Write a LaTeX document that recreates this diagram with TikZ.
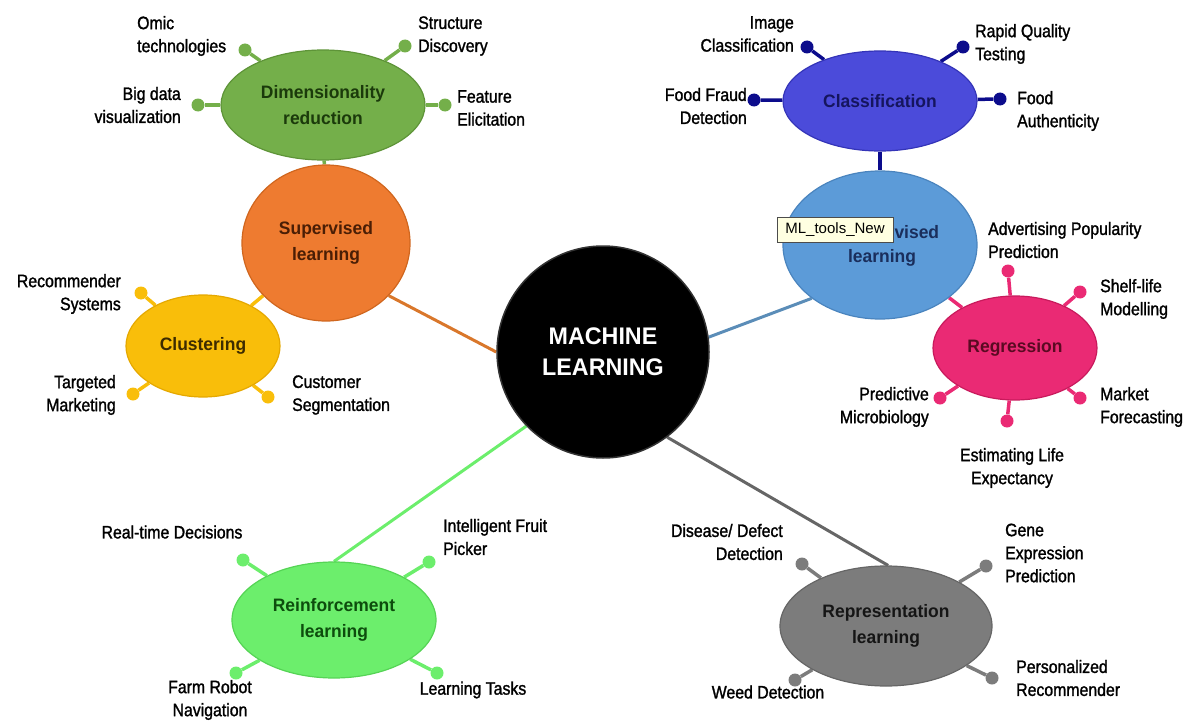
\documentclass[tikz,border=0pt]{standalone}
\usepackage{fontspec}
\setmainfont{Liberation Sans}
\newfontfamily\lblfont{Liberation Sans}[FakeStretch=0.88,FakeBold=1.4]
\newfontfamily\ttlfont{Liberation Sans}[FakeStretch=0.97]
\newfontfamily\tipfont{Liberation Sans}
\usetikzlibrary{shapes.geometric,backgrounds}
\definecolor{cDim}{HTML}{74AF4A}\definecolor{cDimD}{HTML}{5E9438}\definecolor{tDim}{HTML}{1B3A0B}
\definecolor{cSup}{HTML}{EE7B30}\definecolor{cSupD}{HTML}{D0661E}\definecolor{tSup}{HTML}{4A1E05}
\definecolor{cClu}{HTML}{F9BE0A}\definecolor{cCluD}{HTML}{E5A800}\definecolor{tClu}{HTML}{3D2B00}
\definecolor{cCla}{HTML}{4B4BDA}\definecolor{cClaD}{HTML}{3434B8}\definecolor{kCla}{HTML}{0C0C8C}\definecolor{tCla}{HTML}{15155E}
\definecolor{cUns}{HTML}{5C9BD8}\definecolor{cUnsD}{HTML}{4A84BE}\definecolor{tUns}{HTML}{1A2E5C}\definecolor{lUns}{HTML}{5B8DB8}
\definecolor{cReg}{HTML}{EA2A74}\definecolor{cRegD}{HTML}{C81A5C}\definecolor{tReg}{HTML}{5A0A22}
\definecolor{cRei}{HTML}{6CEE6C}\definecolor{cReiD}{HTML}{55D455}\definecolor{tRei}{HTML}{0D4D0D}
\definecolor{cRep}{HTML}{7C7C7C}\definecolor{cRepD}{HTML}{666666}\definecolor{tRep}{HTML}{151515}
\definecolor{lSup}{HTML}{D9772B}
\definecolor{tipfill}{HTML}{FFFFE1}
\tikzset{
  bub/.style={ellipse, inner sep=0, line width=1.2pt, align=center, font=\ttlfont\bfseries\fontsize{18}{26}\selectfont},
  bubtxt/.style={inner sep=0, font=\ttlfont\bfseries\fontsize{18}{26}\selectfont},
  lbl/.style={inner sep=0, font=\lblfont\fontsize{18}{23}\selectfont},
  dotnode/.style={circle, inner sep=0, minimum size=13},
  stem/.style={line width=3.5pt},
  link/.style={line width=3pt}
}
\begin{document}
\begin{tikzpicture}[x=1pt,y=-1pt]
\useasboundingbox (0,0) rectangle (1200,725);
% central
\node[circle, fill=black, draw=black!80, line width=1.5pt, minimum size=212, inner sep=0, text=white, align=center,
  font=\ttlfont\bfseries\fontsize{24}{31}\selectfont] (ml) at (603,352) {MACHINE\\LEARNING};
% bubbles
\node[bub, fill=cDim, draw=cDimD, text=tDim, minimum width=204, minimum height=110] (dim) at (323,105) {Dimensionality\\reduction};
\node[bub, fill=cSup, draw=cSupD, text=tSup, minimum width=168, minimum height=156] (sup) at (326,243) {Supervised\\learning};
\node[bub, fill=cClu, draw=cCluD, text=tClu, minimum width=154, minimum height=102] (clu) at (203,346) {Clustering};
\node[bub, fill=cCla, draw=cClaD, text=tCla, minimum width=194, minimum height=100] (cla) at (880,101) {Classification};
\node[bub, fill=cUns, draw=cUnsD, minimum width=194, minimum height=148] (uns) at (880,245) {};
\node[bub, fill=cReg, draw=cRegD, text=tReg, minimum width=164, minimum height=104] (reg) at (1015,348) {Regression};
\node[bub, fill=cRei, draw=cReiD, text=tRei, minimum width=204, minimum height=116] (rei) at (334,620) {Reinforcement\\learning};
\node[bub, fill=cRep, draw=cRepD, text=tRep, minimum width=212, minimum height=120] (rep) at (886,626) {Representation\\learning};
% tooltip over the Unsupervised label
\node[draw=black!70, fill=tipfill, line width=0.6pt, inner sep=0, minimum width=116, minimum height=25,
  font=\tipfont\fontsize{15}{18}\selectfont] (tip) at (835,230) {ML\_tools\_New};
\node[bubtxt, text=tUns, anchor=base west] (uns1) at ([xshift=1pt]tip.east |- 0,238) {vised};
\node[bubtxt, text=tUns] (uns2) at (882,258) {learning};
% dots
\node[dotnode, fill=cDim] (d1) at (245,50) {};
\node[dotnode, fill=cDim] (d2) at (405,46) {};
\node[dotnode, fill=cDim] (d3) at (198,105) {};
\node[dotnode, fill=cDim] (d4) at (445,105) {};
\node[dotnode, fill=kCla] (c1) at (807,47) {};
\node[dotnode, fill=kCla] (c2) at (963,47) {};
\node[dotnode, fill=kCla] (c3) at (754,100) {};
\node[dotnode, fill=kCla] (c4) at (1000,99) {};
\node[dotnode, fill=cReg] (r1) at (1008,271) {};
\node[dotnode, fill=cReg] (r2) at (1080,292) {};
\node[dotnode, fill=cReg] (r3) at (1080,398) {};
\node[dotnode, fill=cReg] (r4) at (1007,421) {};
\node[dotnode, fill=cReg] (r5) at (940,398) {};
\node[dotnode, fill=cClu] (k1) at (141,293) {};
\node[dotnode, fill=cClu] (k2) at (133,394) {};
\node[dotnode, fill=cClu] (k3) at (268,397) {};
\node[dotnode, fill=cRei] (e1) at (243,560) {};
\node[dotnode, fill=cRei] (e2) at (429,562) {};
\node[dotnode, fill=cRei] (e3) at (236,673) {};
\node[dotnode, fill=cRei] (e4) at (437,673) {};
\node[dotnode, fill=cRep] (p1) at (802,564) {};
\node[dotnode, fill=cRep] (p2) at (986,566) {};
\node[dotnode, fill=cRep] (p3) at (795,680) {};
\node[dotnode, fill=cRep] (p4) at (992,678) {};
% labels
\node[lbl, align=left, anchor=west] (ld1) at (137,36) {Omic\\technologies};
\node[lbl, align=left, anchor=west] (ld2) at (418,36) {Structure\\Discovery};
\node[lbl, align=right, anchor=east] (ld3) at (181,105) {Big data\\visualization};
\node[lbl, align=left, anchor=west] (ld4) at (457,108) {Feature\\Elicitation};
\node[lbl, align=right, anchor=east] (lc1) at (794,34) {Image\\Classification};
\node[lbl, align=left, anchor=west] (lc2) at (975,44) {Rapid Quality\\Testing};
\node[lbl, align=right, anchor=east] (lc3) at (747,106) {Food Fraud\\Detection};
\node[lbl, align=left, anchor=west] (lc4) at (1017,111) {Food\\Authenticity};
\node[lbl, align=left, anchor=west] (lr1) at (988,240) {Advertising Popularity\\Prediction};
\node[lbl, align=left, anchor=west] (lr2) at (1100,299) {Shelf-life\\Modelling};
\node[lbl, align=left, anchor=west] (lr3) at (1100,407) {Market\\Forecasting};
\node[lbl, align=right, anchor=east] (lr5) at (929,407) {Predictive\\Microbiology};
\node[lbl, align=center] (lr4) at (1012,468) {Estimating Life\\Expectancy};
\node[lbl, align=right, anchor=east] (lk1) at (121,294) {Recommender\\Systems};
\node[lbl, align=right, anchor=east] (lk2) at (116,395) {Targeted\\Marketing};
\node[lbl, align=left, anchor=west] (lk3) at (292,395) {Customer\\Segmentation};
\node[lbl] (le1) at (172,532) {Real-time Decisions};
\node[lbl, align=left, anchor=west] (le2) at (443,537) {Intelligent Fruit\\Picker};
\node[lbl, align=center] (le3) at (210,700) {Farm Robot\\Navigation};
\node[lbl] (le4) at (473,690) {Learning Tasks};
\node[lbl, align=right, anchor=east] (lp1) at (783,542) {Disease/ Defect\\Detection};
\node[lbl, align=left, anchor=west] (lp2) at (1005,553) {Gene\\Expression\\Prediction};
\node[lbl] (lp3) at (768,692) {Weed Detection};
\node[lbl, align=left, anchor=west] (lp4) at (1016,678) {Personalized\\Recommender};
\begin{pgfonlayer}{background}
  \draw[link, lSup] (sup.-40) -- (ml.180);
  \draw[link, lUns] (uns.218) -- (ml.8);
  \draw[link, cRei] (rei.90) -- (ml.224);
  \draw[link, cRepD] (ml.-53) -- (rep.88);
  \draw[stem, cDim] (dim) -- (sup);
  \draw[stem, cClu] (clu) -- (sup);
  \draw[stem, kCla] (cla) -- (uns);
  \draw[stem, cReg] (uns) -- (reg);
  \foreach \d in {d1,d2,d3,d4} \draw[stem, cDim] (dim) -- (\d);
  \foreach \d in {c1,c2,c3,c4} \draw[stem, kCla] (cla) -- (\d);
  \foreach \d in {r1,r2,r3,r4,r5} \draw[stem, cReg] (reg) -- (\d);
  \foreach \d in {k1,k2,k3} \draw[stem, cClu] (clu) -- (\d);
  \foreach \d in {e1,e2,e3,e4} \draw[stem, cRei] (rei) -- (\d);
  \foreach \d in {p1,p2,p3,p4} \draw[stem, cRep] (rep) -- (\d);
\end{pgfonlayer}
\end{tikzpicture}
\end{document}
